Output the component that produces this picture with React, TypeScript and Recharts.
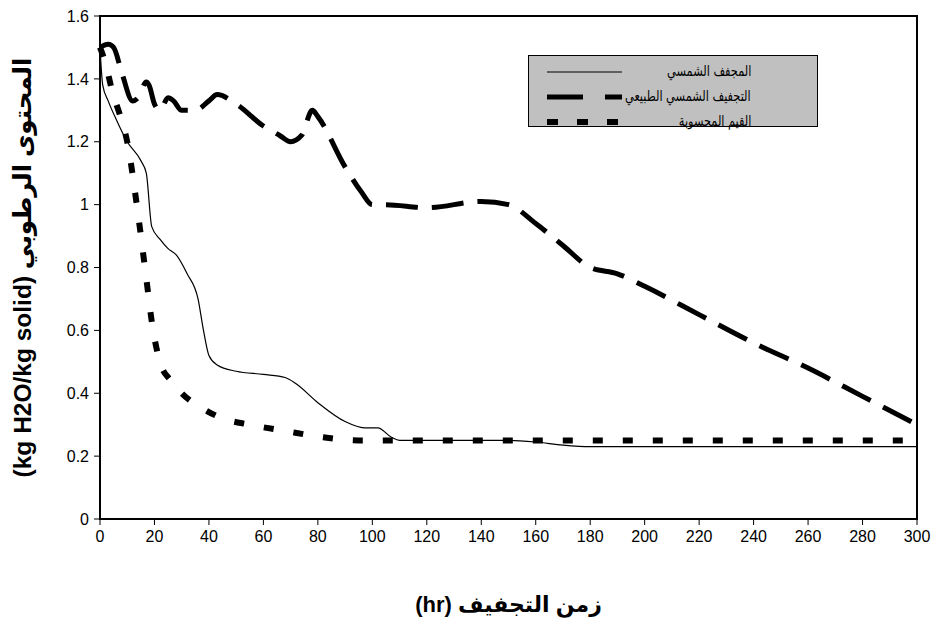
import { LineChart, Line, XAxis, YAxis, ReferenceArea } from 'recharts'

// المجفف الشمسي (solar dryer)
const solarDryerTime = [0, 1, 3, 6, 10, 15, 17, 19, 22, 25, 28, 32, 36, 38, 40, 43, 50, 60, 68, 72, 80, 90, 97, 102, 107, 110, 150, 160, 170, 180, 190, 300]
const solarDryerMoisture = [1.5, 1.38, 1.33, 1.27, 1.2, 1.14, 1.1, 0.93, 0.89, 0.86, 0.84, 0.78, 0.7, 0.6, 0.52, 0.49, 0.47, 0.46, 0.45, 0.43, 0.37, 0.31, 0.29, 0.29, 0.26, 0.25, 0.25, 0.245, 0.235, 0.23, 0.23, 0.23]

// التجفيف الشمسي الطبيعي (open sun drying)
const openSunTime = [0, 3, 5, 8, 12, 14, 17, 18, 20, 22, 25, 27, 30, 35, 40, 43, 50, 60, 66, 70, 74, 78, 80, 90, 96, 100, 105, 120, 140, 150, 160, 170, 180, 190, 200, 220, 240, 260, 280, 300]
const openSunMoisture = [1.5, 1.51, 1.5, 1.42, 1.33, 1.34, 1.39, 1.38, 1.32, 1.3, 1.34, 1.33, 1.3, 1.3, 1.33, 1.35, 1.32, 1.25, 1.22, 1.2, 1.22, 1.3, 1.28, 1.12, 1.04, 1.0, 1.0, 0.99, 1.01, 1.0, 0.94, 0.87, 0.8, 0.78, 0.74, 0.65, 0.56, 0.48, 0.39, 0.3]

// القيم المحسوبة (calculated values)
const calcTime = [0, 2, 4.5, 7.5, 10, 13.5, 16.5, 19.5, 22, 26, 30, 38, 45, 55, 68, 82, 95, 150, 200, 250, 300]
const calcMoisture = [1.5, 1.45, 1.36, 1.28, 1.2, 1.0, 0.8, 0.6, 0.5, 0.44, 0.4, 0.35, 0.32, 0.3, 0.28, 0.26, 0.25, 0.25, 0.25, 0.25, 0.25]

const xTicks = [0, 20, 40, 60, 80, 100, 120, 140, 160, 180, 200, 220, 240, 260, 280, 300]
const yTicks = [0, 0.2, 0.4, 0.6, 0.8, 1, 1.2, 1.4, 1.6]

const seriesNames = ['المجفف الشمسي', 'التجفيف الشمسي الطبيعي', 'القيم المحسوبة']

const toPoints = (t: number[], m: number[]) => t.map((x, i) => ({ t: x, m: m[i] }))

const FONT = '"Liberation Sans", Arial, "DejaVu Sans", sans-serif'
const LEGEND_FONT = '"Liberation Sans", "DejaVu Sans Condensed", "DejaVu Sans", sans-serif'

function LegendBox() {
  const rows = [
    { dash: undefined, w: 1.2 },
    { dash: '36 22 16 0', w: 5 },
    { dash: '11 19', w: 6 },
  ]
  return (
    <div
      style={{
        position: 'absolute',
        left: 528,
        top: 55,
        width: 290,
        height: 72,
        background: '#c0c0c0',
        border: '1px solid #000',
        boxSizing: 'border-box',
        fontFamily: LEGEND_FONT,
        fontSize: 15,
      }}
    >
      {rows.map((r, i) => (
        <div key={i} style={{ position: 'absolute', top: 5 + i * 25, left: 0, width: 288, height: 22 }}>
          <svg width={80} height={22} style={{ position: 'absolute', left: 18, top: 0 }}>
            <line x1={0} y1={11} x2={75} y2={11} stroke="#000" strokeWidth={r.w} strokeDasharray={r.dash} />
          </svg>
          <span
            style={{
              position: 'absolute',
              right: 66,
              top: -1,
              direction: 'rtl',
              lineHeight: '22px',
              whiteSpace: 'nowrap',
              transform: 'scaleX(0.84)',
              transformOrigin: 'right center',
            }}
          >
            {seriesNames[i]}
          </span>
        </div>
      ))}
    </div>
  )
}

export default function App() {
  return (
    <div style={{ position: 'absolute', left: 0, top: 0, width: 936, height: 644, background: '#fff' }}>
      <style>{'body{margin:0}'}</style>
      <LineChart width={936} height={644} margin={{ top: 16, right: 19, bottom: 0, left: 40 }}>
        <XAxis
          type="number"
          dataKey="t"
          domain={[0, 300]}
          ticks={xTicks}
          interval={0}
          allowDuplicatedCategory={false}
          height={125}
          tickSize={6}
          axisLine={{ stroke: '#000', strokeWidth: 2 }}
          tickLine={{ stroke: '#000' }}
          tick={{ fill: '#000', fontSize: 16, fontFamily: FONT, dy: 4 }}
          label={{
            value: '(hr) زمن التجفيف',
            position: 'insideBottom',
            offset: 32,
            style: { fill: '#000', fontSize: 22, fontWeight: 'bold', fontFamily: FONT },
          }}
        />
        <YAxis
          type="number"
          dataKey="m"
          domain={[0, 1.6]}
          ticks={yTicks}
          interval={0}
          width={60}
          tickSize={6}
          axisLine={{ stroke: '#000', strokeWidth: 2 }}
          tickLine={{ stroke: '#000' }}
          tick={{ fill: '#000', fontSize: 16, fontFamily: FONT, dx: -3 }}
          label={{
            value: '(kg H2O/kg solid) المحتوى الرطوبي',
            angle: -90,
            position: 'insideLeft',
            offset: -18,
            style: { textAnchor: 'middle', fill: '#000', fontSize: 24.5, fontWeight: 'bold', fontFamily: FONT },
          }}
        />
        <ReferenceArea x1={0} x2={300} y1={0} y2={1.6} fill="none" stroke="#000" strokeWidth={2} ifOverflow="visible" />
        <Line
          data={toPoints(solarDryerTime, solarDryerMoisture)}
          dataKey="m"
          name={seriesNames[0]}
          type="monotone"
          stroke="#000"
          strokeWidth={1.2}
          dot={false}
          activeDot={false}
          isAnimationActive={false}
        />
        <Line
          data={toPoints(openSunTime, openSunMoisture)}
          dataKey="m"
          name={seriesNames[1]}
          type="monotone"
          stroke="#000"
          strokeWidth={5}
          strokeDasharray="32 14"
          dot={false}
          activeDot={false}
          isAnimationActive={false}
        />
        <Line
          data={toPoints(calcTime, calcMoisture)}
          dataKey="m"
          name={seriesNames[2]}
          type="monotone"
          stroke="#000"
          strokeWidth={6}
          strokeDasharray="10 20"
          dot={false}
          activeDot={false}
          isAnimationActive={false}
        />
      </LineChart>
      <LegendBox />
    </div>
  )
}
